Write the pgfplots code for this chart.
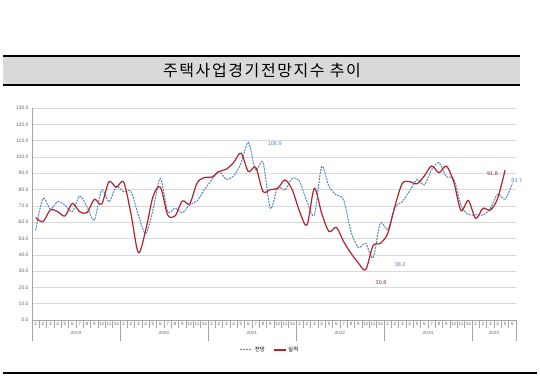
\documentclass[border=0pt]{standalone}
\usepackage{pgfplots}
\pgfplotsset{compat=1.18}
\usepackage{fontspec}
\setmainfont{Liberation Sans}
\newfontfamily\kr{Noto Sans CJK KR}
\newfontfamily\krtitle[LetterSpace=10]{Noto Sans CJK KR}
\definecolor{fc}{RGB}{84,130,190}
\definecolor{ac}{RGB}{176,35,45}
\definecolor{tc}{RGB}{100,100,100}
\begin{document}
\begin{tikzpicture}
\useasboundingbox (0pt,0pt) rectangle (540pt,382pt);
\fill[black!15] (3pt,297pt) rectangle (520pt,326pt);
\draw[line width=1.5pt] (3pt,326pt) -- (520pt,326pt);
\draw[line width=1.8pt] (3pt,297pt) -- (520pt,297pt);
\node[font=\krtitle\fontsize{16}{16}\selectfont] at (262pt,311.5pt) {주택사업경기전망지수 추이};
\draw[line width=1.5pt] (3pt,9pt) -- (537pt,9pt);
\begin{axis}[
 at={(32pt,62pt)}, anchor=south west, scale only axis, width=484pt, height=212pt,
 xmin=-0.5, xmax=65.5, ymin=0, ymax=130,
 ytick={0,10,...,130},
 ymajorgrids, grid style={draw=black!15, line width=0.5pt},
 axis lines*=left,
 axis line style={draw=black!35, line width=0.5pt},
 major tick length=0pt,
 y tick label style={font=\fontsize{5}{5}\selectfont, color=tc, /pgf/number format/.cd, fixed, fixed zerofill, precision=1, assume math mode=true},
 xtick={0,...,65},
 xticklabels={1,2,3,4,5,6,7,8,9,10,11,12,1,2,3,4,5,6,7,8,9,10,11,12,1,2,3,4,5,6,7,8,9,10,11,12,1,2,3,4,5,6,7,8,9,10,11,12,1,2,3,4,5,6,7,8,9,10,11,12,1,2,3,4,5,6},
 x tick label style={font=\fontsize{4.5}{5}\selectfont, color=tc, yshift=1pt},
 extra x ticks={-0.5,0.5,...,65.5}, extra x tick labels={},
 extra x tick style={major tick length=8pt, tick align=outside, tick style={draw=black!35, line width=0.4pt}},
 clip=false,
 legend style={at={(0.492,-0.1415)}, anchor=center, draw=none, fill=none, font=\kr\fontsize{5.5}{6}\selectfont, legend columns=2, /tikz/every even column/.append style={column sep=6pt}},
 legend image code/.code={\draw[#1] (0pt,0pt) -- (12pt,0pt);},
]
\addplot[color=fc, line width=1pt, dash pattern=on 2pt off 1pt, smooth, tension=0.5] coordinates {
(0,55.0)(1,74.6)(2,68.0)(3,72.6)(4,70.5)(5,66.4)(6,76.0)(7,69.5)(8,61.3)(9,79.7)(10,72.6)(11,81.8)
(12,78.7)(13,78.7)(14,64.4)(15,53.0)(16,67.5)(17,86.9)(18,66.5)(19,68.6)(20,65.8)(21,70.6)(22,73.0)(23,79.8)
(24,85.9)(25,91.0)(26,86.3)(27,88.4)(28,96.1)(29,108.9)(30,92.0)(31,96.6)(32,68.5)(33,81.3)(34,79.7)(35,86.9)
(36,84.8)(37,72.6)(38,64.4)(39,94.0)(40,81.8)(41,76.7)(42,73.6)(43,54.2)(44,44.5)(45,47.0)(46,38.2)(47,59.5)
(48,55.4)(49,69.0)(50,72.6)(51,79.2)(52,86.1)(53,82.8)(54,92.2)(55,96.5)(56,87.9)(57,86.6)(58,70.5)(59,64.6)
(60,64.6)(61,64.4)(62,68.5)(63,77.2)(64,74.1)(65,83.7)};
\addlegendentry{전망}
\addplot[color=ac, line width=1.2pt, smooth, tension=0.5] coordinates {
(0,62.8)(1,60.3)(2,67.5)(3,66.4)(4,63.8)(5,71.5)(6,66.4)(7,65.8)(8,74.0)(9,71.1)(10,84.8)(11,81.4)
(12,84.6)(13,65.0)(14,41.3)(15,55.0)(16,75.7)(17,81.5)(18,64.5)(19,63.8)(20,73.0)(21,71.2)(22,83.9)(23,87.4)
(24,87.6)(25,91.0)(26,92.5)(27,96.6)(28,102.3)(29,91.0)(30,93.7)(31,78.8)(32,80.0)(33,80.7)(34,85.9)(35,79.7)
(36,66.4)(37,58.3)(38,80.7)(39,65.4)(40,54.2)(41,56.8)(42,48.0)(43,40.9)(44,35.0)(45,30.8)(46,45.5)(47,47.0)
(48,53.0)(49,70.0)(50,83.8)(51,84.8)(52,83.5)(53,88.4)(54,94.5)(55,90.3)(56,94.4)(57,84.8)(58,67.1)(59,73.3)
(60,62.3)(61,68.5)(62,67.4)(63,74.6)(64,91.8)};
\addlegendentry{실적}
\draw[black!35, line width=0.4pt] (axis cs:-0.5,0) -- ([yshift=-21pt]axis cs:-0.5,0);
\draw[black!35, line width=0.4pt] (axis cs:11.5,0) -- ([yshift=-21pt]axis cs:11.5,0);
\draw[black!35, line width=0.4pt] (axis cs:23.5,0) -- ([yshift=-21pt]axis cs:23.5,0);
\draw[black!35, line width=0.4pt] (axis cs:35.5,0) -- ([yshift=-21pt]axis cs:35.5,0);
\draw[black!35, line width=0.4pt] (axis cs:47.5,0) -- ([yshift=-21pt]axis cs:47.5,0);
\draw[black!35, line width=0.4pt] (axis cs:59.5,0) -- ([yshift=-21pt]axis cs:59.5,0);
\draw[black!35, line width=0.4pt] (axis cs:65.5,0) -- ([yshift=-21pt]axis cs:65.5,0);
\node[font=\fontsize{4.5}{5}\selectfont, color=tc] at (axis cs:5.5,0) [yshift=-13pt] {2019};
\node[font=\fontsize{4.5}{5}\selectfont, color=tc] at (axis cs:17.5,0) [yshift=-13pt] {2020};
\node[font=\fontsize{4.5}{5}\selectfont, color=tc] at (axis cs:29.5,0) [yshift=-13pt] {2021};
\node[font=\fontsize{4.5}{5}\selectfont, color=tc] at (axis cs:41.5,0) [yshift=-13pt] {2022};
\node[font=\fontsize{4.5}{5}\selectfont, color=tc] at (axis cs:53.5,0) [yshift=-13pt] {2023};
\node[font=\fontsize{4.5}{5}\selectfont, color=tc] at (axis cs:62.5,0) [yshift=-13pt] {2024};
\node[font=\fontsize{5.5}{6}\selectfont, color=fc] at (axis cs:32.6,108) {108.9};
\node[font=\fontsize{5.5}{6}\selectfont, color=fc] at (axis cs:49.7,33.7) {38.2};
\node[font=\fontsize{5.5}{6}\selectfont, color=ac] at (axis cs:47.1,23.1) {30.8};
\node[font=\fontsize{5.5}{6}\selectfont, color=ac] at (axis cs:62.3,89.6) {91.8};
\node[font=\fontsize{5.5}{6}\selectfont, color=fc] at (axis cs:65.6,85.3) {83.7};
\end{axis}
\end{tikzpicture}
\end{document}
